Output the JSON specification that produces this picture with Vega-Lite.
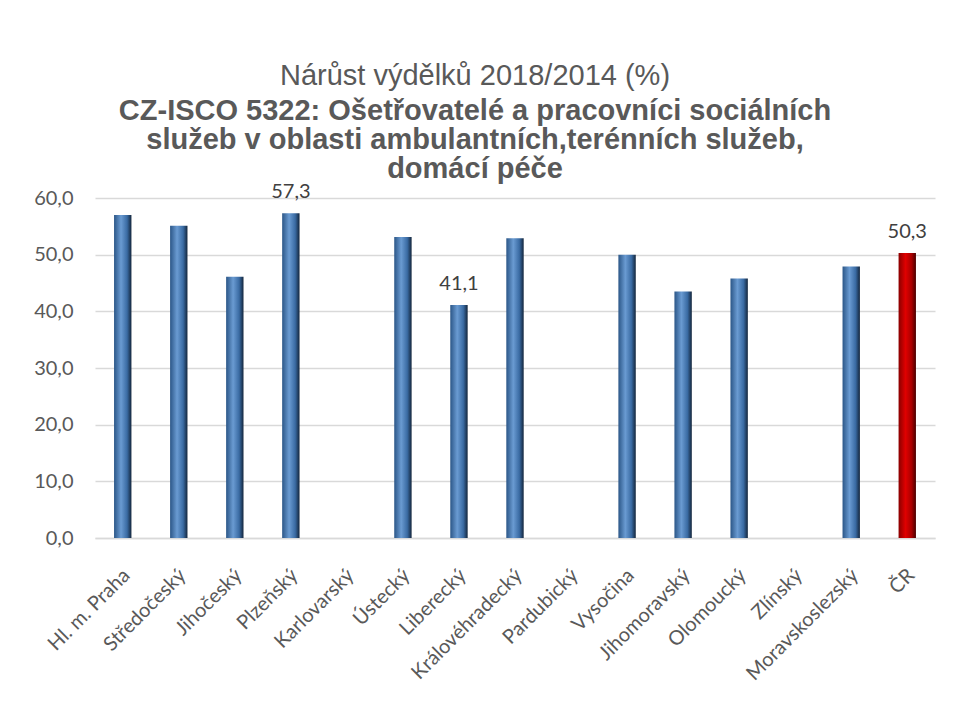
{
  "$schema": "https://vega.github.io/schema/vega-lite/v6.json",
  "width": 840,
  "height": 340,
  "autosize": {"type": "none"},
  "padding": {"left": 95, "top": 198, "right": 18, "bottom": 164},
  "background": "white",
  "config": {
    "locale": {"number": {"decimal": ",", "thousands": " ", "grouping": [3], "currency": ["", " Kč"]}},
    "view": {"stroke": null},
    "font": "Liberation Sans"
  },
  "title": {
    "text": "Nárůst výdělků 2018/2014 (%)",
    "subtitle": ["CZ-ISCO 5322: Ošetřovatelé a pracovníci sociálních", "služeb v oblasti ambulantních,terénních služeb,", "domácí péče"],
    "anchor": "middle",
    "dx": -40,
    "offset": -2,
    "font": "Liberation Sans",
    "fontSize": 29,
    "fontWeight": "normal",
    "color": "#595959",
    "subtitleFont": "Liberation Sans",
    "subtitleFontSize": 29,
    "subtitleFontWeight": "bold",
    "subtitleColor": "#595959",
    "subtitleLineHeight": 29,
    "subtitlePadding": 6
  },
  "data": {
    "values": [
      {"region": "Hl. m. Praha", "value": 57.0, "group": "kraj", "show": false},
      {"region": "Středočeský", "value": 55.1, "group": "kraj", "show": false},
      {"region": "Jihočeský", "value": 46.1, "group": "kraj", "show": false},
      {"region": "Plzeňský", "value": 57.3, "group": "kraj", "show": true},
      {"region": "Karlovarský", "value": null, "group": "kraj", "show": false},
      {"region": "Ústecký", "value": 53.1, "group": "kraj", "show": false},
      {"region": "Liberecký", "value": 41.1, "group": "kraj", "show": true},
      {"region": "Královéhradecký", "value": 52.9, "group": "kraj", "show": false},
      {"region": "Pardubický", "value": null, "group": "kraj", "show": false},
      {"region": "Vysočina", "value": 50.0, "group": "kraj", "show": false},
      {"region": "Jihomoravský", "value": 43.5, "group": "kraj", "show": false},
      {"region": "Olomoucký", "value": 45.8, "group": "kraj", "show": false},
      {"region": "Zlínský", "value": null, "group": "kraj", "show": false},
      {"region": "Moravskoslezský", "value": 47.9, "group": "kraj", "show": false},
      {"region": "ČR", "value": 50.3, "group": "cr", "show": true}
    ]
  },
  "encoding": {
    "x": {
      "field": "region",
      "type": "nominal",
      "sort": null,
      "scale": {
        "domain": ["Hl. m. Praha", "Středočeský", "Jihočeský", "Plzeňský", "Karlovarský", "Ústecký", "Liberecký", "Královéhradecký", "Pardubický", "Vysočina", "Jihomoravský", "Olomoucký", "Zlínský", "Moravskoslezský", "ČR"],
        "paddingInner": 0.69,
        "paddingOuter": 0.34
      },
      "axis": {
        "title": null,
        "labelAngle": -45,
        "labelAlign": "right",
        "labelBaseline": "middle",
        "labelFont": "Lato",
        "labelFontSize": 20,
        "labelColor": "#595959",
        "labelPadding": 34,
        "labelOffset": 4,
        "ticks": false,
        "tickSize": 0,
        "domainColor": "#d9d9d9",
        "domainWidth": 1.5
      }
    },
    "y": {
      "field": "value",
      "type": "quantitative",
      "scale": {"domain": [0, 60], "nice": false},
      "axis": {
        "title": null,
        "values": [0, 10, 20, 30, 40, 50, 60],
        "format": ".1f",
        "labelFont": "Lato",
        "labelFontSize": 20,
        "labelColor": "#595959",
        "labelPadding": 22,
        "ticks": false,
        "tickSize": 0,
        "domain": false,
        "gridColor": "#d9d9d9",
        "gridWidth": 1.5
      }
    }
  },
  "layer": [
    {
      "transform": [{"filter": "datum.group === 'kraj' && isValid(datum.value)"}],
      "mark": {
        "type": "bar",
        "color": {
          "gradient": "linear", "x1": 0, "x2": 1, "y1": 0, "y2": 0,
          "stops": [
            {"offset": 0, "color": "#2b5687"},
            {"offset": 0.4, "color": "#6a9bd2"},
            {"offset": 0.75, "color": "#3a6ba3"},
            {"offset": 1, "color": "#13253b"}
          ]
        }
      }
    },
    {
      "transform": [{"filter": "datum.group === 'cr'"}],
      "mark": {
        "type": "bar",
        "color": {
          "gradient": "linear", "x1": 0, "x2": 1, "y1": 0, "y2": 0,
          "stops": [
            {"offset": 0, "color": "#8a0000"},
            {"offset": 0.4, "color": "#e00000"},
            {"offset": 0.75, "color": "#a80000"},
            {"offset": 1, "color": "#4a0000"}
          ]
        }
      }
    },
    {
      "transform": [{"filter": "datum.show"}],
      "mark": {"type": "text", "baseline": "bottom", "dy": -11, "font": "Lato", "fontSize": 20, "color": "#404040"},
      "encoding": {"text": {"field": "value", "type": "quantitative", "format": ".1f"}}
    }
  ]
}
